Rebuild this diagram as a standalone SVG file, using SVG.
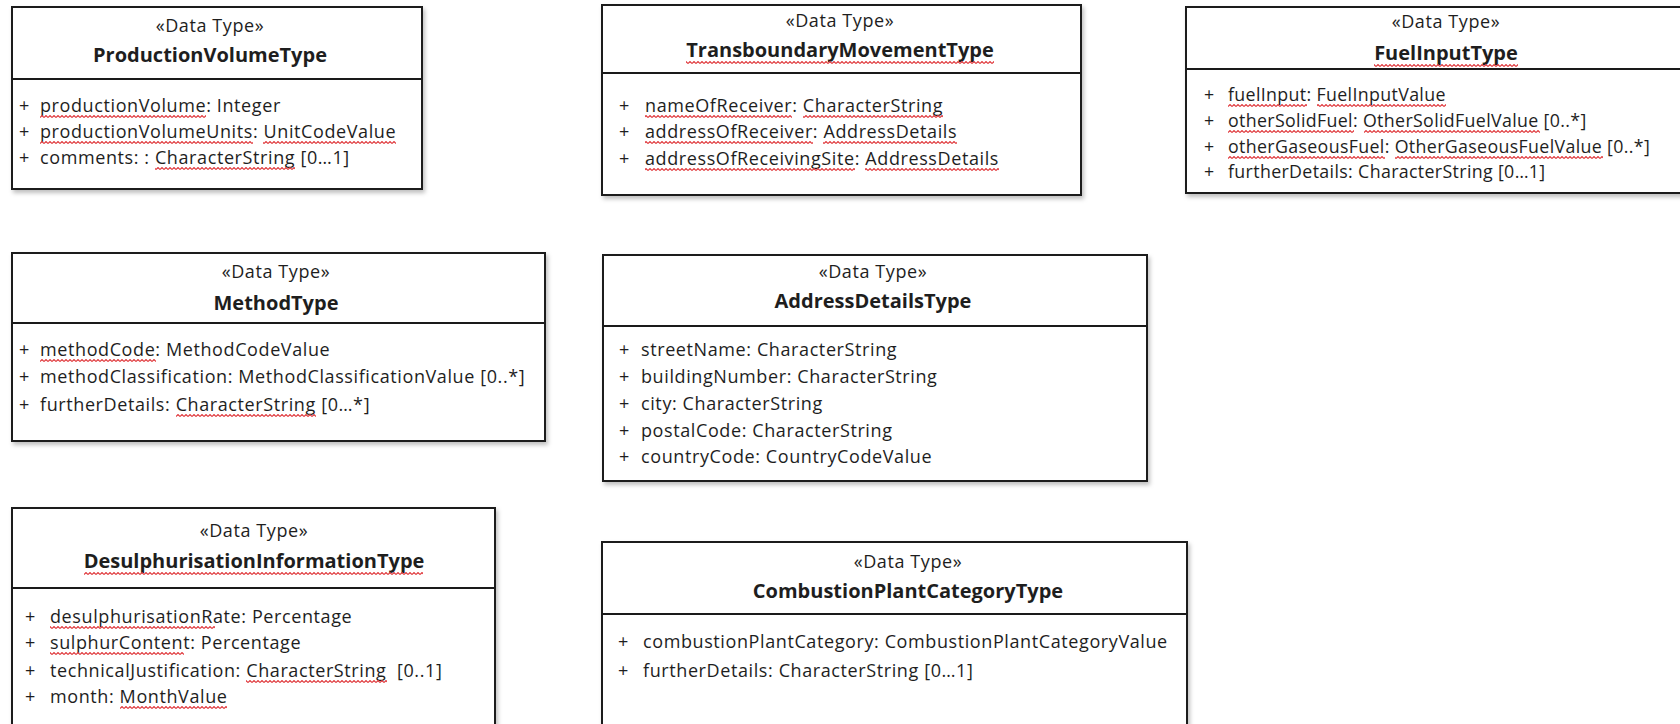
<svg xmlns="http://www.w3.org/2000/svg" width="1680" height="724" viewBox="0 0 1680 724">
<defs>
<filter id="sh" x="-5%" y="-5%" width="115%" height="120%">
<feDropShadow dx="2" dy="3" stdDeviation="2" flood-color="#000" flood-opacity="0.25"/>
</filter>
<pattern id="wv" width="4" height="3" patternUnits="userSpaceOnUse">
<path d="M0,2.5 L2,0.5 L4,2.5" fill="none" stroke="#e0383c" stroke-width="1.1"/>
</pattern>
<style>
.box{fill:#fff;stroke:#1a1a1a;stroke-width:2;filter:url(#sh)}
.div{stroke:#1a1a1a;stroke-width:2}
text{font-family:"Open Sans","Noto Sans",sans-serif;fill:#1e1e1e;font-size:18px;letter-spacing:0.6px}
.st{text-anchor:middle}
.nm{text-anchor:middle;font-weight:bold;font-size:20px;letter-spacing:0}
.f3{font-size:17.8px;letter-spacing:0.35px}
.sq{fill:url(#wv)}
</style>
</defs>
<rect width="1680" height="724" fill="#fff"/>
<g id="connectors"></g>

<g id="ProductionVolumeType">
<rect class="box" x="12" y="7" width="410" height="182"/>
<line class="div" x1="12" y1="79" x2="422" y2="79"/>
<text class="st" x="210" y="32">«Data Type»</text>
<text class="nm" x="210" y="62">ProductionVolumeType</text>
<text x="19" y="112">+</text><text x="40" y="112">productionVolume: Integer</text>
<text x="19" y="138">+</text><text x="40" y="138">productionVolumeUnits: UnitCodeValue</text>
<text x="19" y="164">+</text><text x="40" y="164">comments: : CharacterString [0…1]</text>
<rect class="sq" x="40" width="166" height="3" transform="translate(0,115)"/>
<rect class="sq" x="40" width="213" height="3" transform="translate(0,141)"/>
<rect class="sq" x="263" width="133" height="3" transform="translate(0,141)"/>
<rect class="sq" x="155" width="140" height="3" transform="translate(0,167)"/>
</g>

<g id="TransboundaryMovementType">
<rect class="box" x="602" y="5" width="479" height="190"/>
<line class="div" x1="602" y1="73" x2="1081" y2="73"/>
<text class="st" x="840" y="27">«Data Type»</text>
<text class="nm" x="840" y="57">TransboundaryMovementType</text>
<rect class="sq" x="686" width="308" height="3" transform="translate(0,61)"/>
<text x="619" y="112">+</text><text x="645" y="112">nameOfReceiver: CharacterString</text>
<text x="619" y="138">+</text><text x="645" y="138">addressOfReceiver: AddressDetails</text>
<text x="619" y="165">+</text><text x="645" y="165">addressOfReceivingSite: AddressDetails</text>
<rect class="sq" x="645" width="147" height="3" transform="translate(0,115)"/>
<rect class="sq" x="803" width="140" height="3" transform="translate(0,115)"/>
<rect class="sq" x="645" width="168" height="3" transform="translate(0,141)"/>
<rect class="sq" x="823" width="134" height="3" transform="translate(0,141)"/>
<rect class="sq" x="645" width="210" height="3" transform="translate(0,168)"/>
<rect class="sq" x="865" width="134" height="3" transform="translate(0,168)"/>
</g>

<g id="FuelInputType">
<rect class="box" x="1186" y="7" width="520" height="186"/>
<line class="div" x1="1186" y1="69" x2="1706" y2="69"/>
<text class="st" x="1446" y="28">«Data Type»</text>
<text class="nm" x="1446" y="60">FuelInputType</text>
<rect class="sq" x="1374" width="144" height="3" transform="translate(0,64)"/>
<text class="f3" x="1204" y="101">+</text><text class="f3" x="1228" y="101">fuelInput: FuelInputValue</text>
<text class="f3" x="1204" y="127">+</text><text class="f3" x="1228" y="127">otherSolidFuel: OtherSolidFuelValue [0..*]</text>
<text class="f3" x="1204" y="153">+</text><text class="f3" x="1228" y="153">otherGaseousFuel: OtherGaseousFuelValue [0..*]</text>
<text class="f3" x="1204" y="178">+</text><text class="f3" x="1228" y="178">furtherDetails: CharacterString [0…1]</text>
<rect class="sq" x="1228" width="79" height="3" transform="translate(0,104)"/>
<rect class="sq" x="1317" width="129" height="3" transform="translate(0,104)"/>
<rect class="sq" x="1228" width="126" height="3" transform="translate(0,130)"/>
<rect class="sq" x="1364" width="176" height="3" transform="translate(0,130)"/>
<rect class="sq" x="1228" width="157" height="3" transform="translate(0,156)"/>
<rect class="sq" x="1395" width="208" height="3" transform="translate(0,156)"/>
</g>

<g id="MethodType">
<rect class="box" x="12" y="253" width="533" height="188"/>
<line class="div" x1="12" y1="323" x2="545" y2="323"/>
<text class="st" x="276" y="278">«Data Type»</text>
<text class="nm" x="276" y="310">MethodType</text>
<text x="19" y="356">+</text><text x="40" y="356">methodCode: MethodCodeValue</text>
<text x="19" y="383">+</text><text x="40" y="383">methodClassification: MethodClassificationValue [0..*]</text>
<text x="19" y="411">+</text><text x="40" y="411">furtherDetails: CharacterString [0…*]</text>
<rect class="sq" x="40" width="116" height="3" transform="translate(0,359)"/>
<rect class="sq" x="176" width="140" height="3" transform="translate(0,414)"/>
</g>

<g id="AddressDetailsType">
<rect class="box" x="603" y="255" width="544" height="226"/>
<line class="div" x1="603" y1="326" x2="1147" y2="326"/>
<text class="st" x="873" y="278">«Data Type»</text>
<text class="nm" x="873" y="308">AddressDetailsType</text>
<text x="619" y="356">+</text><text x="641" y="356">streetName: CharacterString</text>
<text x="619" y="383">+</text><text x="641" y="383">buildingNumber: CharacterString</text>
<text x="619" y="410">+</text><text x="641" y="410">city: CharacterString</text>
<text x="619" y="437">+</text><text x="641" y="437">postalCode: CharacterString</text>
<text x="619" y="463">+</text><text x="641" y="463">countryCode: CountryCodeValue</text>
</g>

<g id="DesulphurisationInformationType">
<rect class="box" x="12" y="508" width="483" height="240"/>
<line class="div" x1="12" y1="588" x2="495" y2="588"/>
<text class="st" x="254" y="537">«Data Type»</text>
<text class="nm" x="254" y="568">DesulphurisationInformationType</text>
<rect class="sq" x="84" width="339" height="3" transform="translate(0,572)"/>
<text x="25" y="623">+</text><text x="50" y="623">desulphurisationRate: Percentage</text>
<text x="25" y="649">+</text><text x="50" y="649">sulphurContent: Percentage</text>
<text x="25" y="677">+</text><text x="50" y="677">technicalJustification: CharacterString&#160; [0..1]</text>
<text x="25" y="703">+</text><text x="50" y="703">month: MonthValue</text>
<rect class="sq" x="50" width="165" height="3" transform="translate(0,626)"/>
<rect class="sq" x="50" width="134" height="3" transform="translate(0,652)"/>
<rect class="sq" x="246" width="141" height="3" transform="translate(0,680)"/>
<rect class="sq" x="120" width="107" height="3" transform="translate(0,706)"/>
</g>

<g id="CombustionPlantCategoryType">
<rect class="box" x="602" y="542" width="585" height="220"/>
<line class="div" x1="602" y1="614" x2="1187" y2="614"/>
<text class="st" x="908" y="568">«Data Type»</text>
<text class="nm" x="908" y="598">CombustionPlantCategoryType</text>
<text x="618" y="648">+</text><text x="643" y="648">combustionPlantCategory: CombustionPlantCategoryValue</text>
<text x="618" y="677">+</text><text x="643" y="677">furtherDetails: CharacterString [0…1]</text>
</g>
</svg>
